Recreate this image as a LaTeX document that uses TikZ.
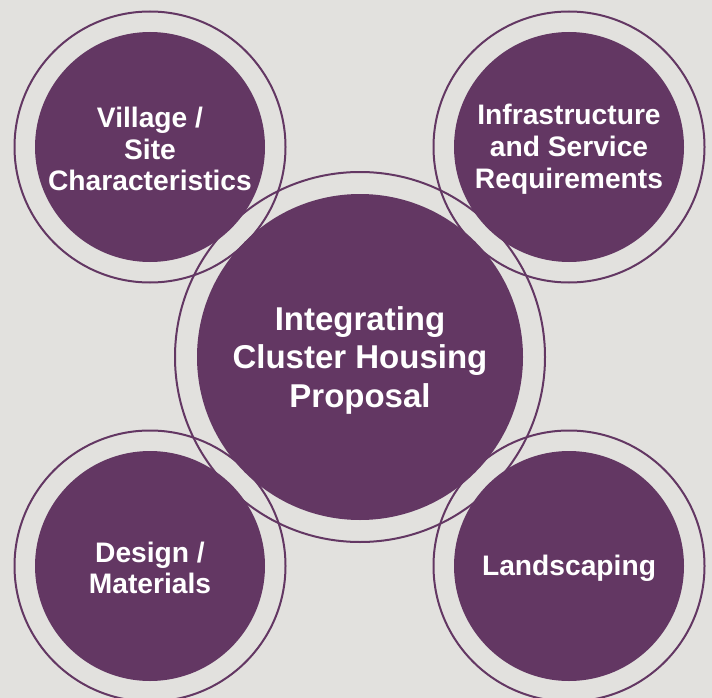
\documentclass[tikz,border=0pt]{standalone}
\usepackage{fontspec}
\setmainfont{Liberation Sans}
\definecolor{plum}{RGB}{99,55,99}
\definecolor{paper}{RGB}{226,225,222}
\tikzset{
	ring/.style={draw=plum, line width=2pt},
	disc/.style={circle, fill=plum, inner sep=0pt, text=white, align=center, font=\bfseries\fontsize{28.2}{31.8}\selectfont},
	hubdisc/.style={disc, font=\bfseries\fontsize{33}{38.5}\selectfont}
}

\begin{document}
\begin{tikzpicture}[x=1pt, y=-1pt]
	\fill[paper] (0,0) rectangle (712,698);
	\useasboundingbox (0,0) rectangle (712,698);

	\coordinate (village) at (150,147);
	\coordinate (infra) at (569,147);
	\coordinate (design) at (150,566);
	\coordinate (landsc) at (569,566);
	\coordinate (hub) at (360,357);

	% outer rings
	\draw[ring] (village) circle (135.5);
	\draw[ring] (infra) circle (135.5);
	\draw[ring] (design) circle (135.5);
	\draw[ring] (landsc) circle (135.5);
	\draw[ring] (hub) circle (185);

	% discs
	\node[disc, minimum size=230pt] (villagedisc) at (village) {};
	\node[disc, minimum size=230pt] (infradisc) at (infra) {};
	\node[disc, minimum size=230pt] (designdisc) at (design) {};
	\node[disc, minimum size=230pt] (landscdisc) at (landsc) {};
	\node[hubdisc, minimum size=326pt] (hubdisc) at (hub) {};

	% labels
	\node[disc, fill=none] (villagetext) at ([yshift=-2pt]villagedisc) {Village /\\Site\\Characteristics};
	\node[disc, fill=none] (infratext) at ([yshift=-2pt]infradisc) {Infrastructure\\and Service\\Requirements};
	\node[disc, fill=none] (designtext) at ([yshift=-2pt]designdisc) {Design /\\Materials};
	\node[disc, fill=none] (landsctext) at ([yshift=-2pt]landscdisc) {Landscaping};
	\node[hubdisc, fill=none] (hubtext) at ([yshift=-3pt]hubdisc) {Integrating\\Cluster Housing\\Proposal};
\end{tikzpicture}
\end{document}
